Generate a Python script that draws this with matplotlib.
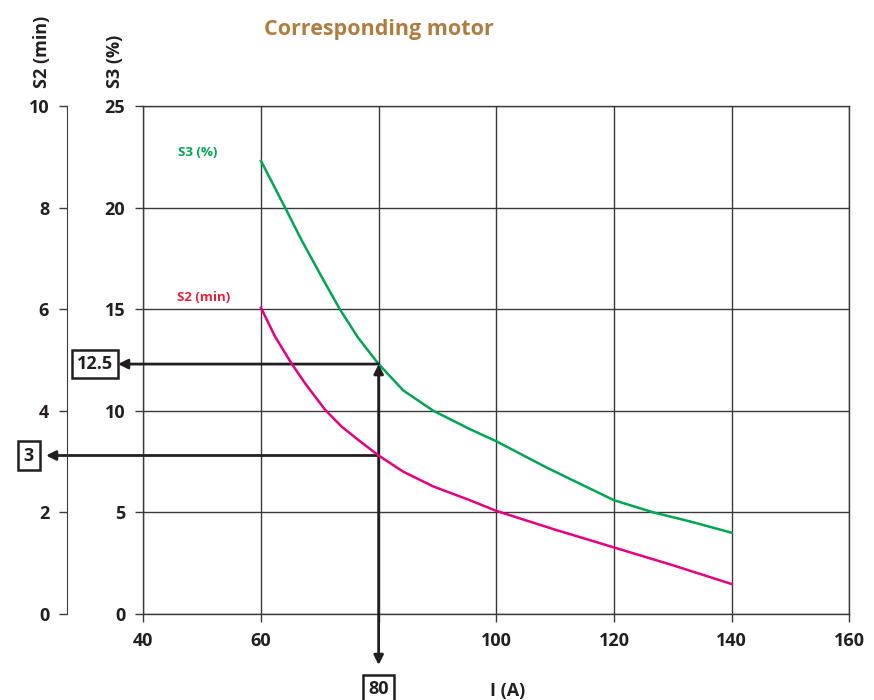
import matplotlib
matplotlib.use("Agg")
import matplotlib.pyplot as plt

plt.rcParams['font.family'] = ['Open Sans', 'DejaVu Sans']

# ---- data ----
I_s3 = [60, 64.1, 66.9, 70.3, 73.4, 76.5, 80, 84.2, 89.3, 95.5, 100, 108.6, 115, 120, 126.7, 133, 140]
S3 = [22.3, 20.0, 18.4, 16.6, 15.0, 13.6, 12.3, 11.0, 10.0, 9.1, 8.5, 7.2, 6.3, 5.6, 5.0, 4.55, 4.0]

I_s2 = [60, 62.4, 65.2, 67.5, 70.9, 73.7, 76.5, 80, 84.2, 89.3, 95.5, 100, 110, 120, 130, 140]
S2 = [6.03, 5.46, 4.93, 4.54, 4.02, 3.69, 3.43, 3.12, 2.80, 2.51, 2.24, 2.03, 1.66, 1.31, 0.96, 0.59]

x_ticks = [40, 60, 80, 100, 120, 140, 160]
x_tick_labels = ["40", "60", "", "100", "120", "140", "160"]
s3_ticks = [0, 5, 10, 15, 20, 25]
s2_ticks = [0, 2, 4, 6, 8, 10]

read_I = 80
read_S3 = "12.5"
read_S2 = "3"

GREEN = "#00A651"
PINK = "#E6007E"
RED = "#E8203A"
BROWN = "#B07D3E"
DARK = "#231F20"
GRID = "#3a3a3a"

W, H = 874, 700
fig = plt.figure(figsize=(W / 100, H / 100), dpi=100)

x0, x1 = 143.3, 849.3
y0, y1 = 614, 106
ax = fig.add_axes([x0 / W, 1 - y0 / H, (x1 - x0) / W, (y0 - y1) / H])
ax.set_xlim(40, 160)
ax.set_ylim(0, 25)
ax.set_xticks(x_ticks)
ax.set_xticklabels(x_tick_labels)
ax.set_yticks(s3_ticks)
ax.grid(True, color=GRID, lw=1.0)
for sp in ax.spines.values():
    sp.set_color(GRID)
    sp.set_linewidth(1.0)
ax.tick_params(direction="out", length=6, width=1, color=GRID,
               labelsize=13, pad=7)
for lab in ax.get_xticklabels() + ax.get_yticklabels():
    lab.set_fontweight("bold")
    lab.set_color(DARK)

# S2 secondary axis on the left
ax2 = ax.twinx()
ax2.set_ylim(0, 10)
ax2.set_yticks(s2_ticks)
ax2.yaxis.set_ticks_position("left")
ax2.yaxis.set_label_position("left")
for k in ("top", "right", "bottom"):
    ax2.spines[k].set_visible(False)
ax2.spines["left"].set_position(("axes", (67.3 - x0) / (x1 - x0)))
ax2.spines["left"].set_color(GRID)
ax2.tick_params(direction="out", length=6, width=1, color=GRID,
                labelsize=13, pad=7)
for lab in ax2.get_yticklabels():
    lab.set_fontweight("bold")
    lab.set_color(DARK)

# curves
ax.plot(I_s3, S3, color=GREEN, lw=1.8, zorder=3)
ax2.plot(I_s2, S2, color=PINK, lw=1.8, zorder=3)

ax.text(49.3, 22.7, "S3 (%)", color=GREEN, fontsize=9.5, fontweight="bold",
        ha="center", va="center")
ax.text(50.2, 15.6, "S2 (min)", color=RED, fontsize=9.5, fontweight="bold",
        ha="center", va="center")

# reading arrows
def interp(xs, ys, x):
    for i in range(len(xs) - 1):
        if xs[i] <= x <= xs[i + 1]:
            t = (x - xs[i]) / (xs[i + 1] - xs[i])
            return ys[i] + t * (ys[i + 1] - ys[i])
    return ys[-1]

y_s3 = interp(I_s3, S3, read_I)
y_s2 = interp(I_s2, S2, read_I) * 2.5  # in S3 units

arrow = dict(arrowstyle="-|>", color=DARK, lw=2, mutation_scale=14,
             shrinkA=0, shrinkB=0)
yt = ax.get_yaxis_transform()
xt = ax.get_xaxis_transform()
ax.annotate("", xy=((118 - x0) / (x1 - x0), y_s3), xycoords=yt,
            xytext=(read_I, y_s3), textcoords="data", arrowprops=arrow,
            annotation_clip=False)
ax.annotate("", xy=((46 - x0) / (x1 - x0), y_s2), xycoords=yt,
            xytext=(read_I, y_s2), textcoords="data", arrowprops=arrow,
            annotation_clip=False)
arrow2 = dict(arrow, arrowstyle="<|-|>")
ax.annotate("", xy=(read_I, (y0 - 665) / (y0 - y1)), xycoords=xt,
            xytext=(read_I, y_s3), textcoords="data", arrowprops=arrow2,
            annotation_clip=False)

box = dict(boxstyle="square,pad=0.3", fc="white", ec=DARK, lw=1.8)
ax.text((95 - x0) / (x1 - x0), y_s3, read_S3, transform=yt, ha="center",
        va="center", fontsize=13, fontweight="bold", color=DARK, bbox=box,
        clip_on=False)
ax.text((29 - x0) / (x1 - x0), y_s2, read_S2, transform=yt, ha="center",
        va="center", fontsize=13, fontweight="bold", color=DARK, bbox=box,
        clip_on=False)
ax.text(read_I, (y0 - 689) / (y0 - y1), str(read_I), transform=xt,
        ha="center", va="center", fontsize=13, fontweight="bold",
        color=DARK, bbox=box, clip_on=False)

# labels
fig.text(379 / W, 1 - 30 / H, "Corresponding motor", color=BROWN,
         fontsize=15.5, fontweight="bold", ha="center", va="center")
fig.text(42 / W, 1 - 88 / H, "S2 (min)", rotation=90, fontsize=13,
         fontweight="bold", color=DARK, ha="center", va="bottom")
fig.text(115 / W, 1 - 88 / H, "S3 (%)", rotation=90, fontsize=13,
         fontweight="bold", color=DARK, ha="center", va="bottom")
fig.text(508 / W, 1 - 691 / H, "I (A)", fontsize=13, fontweight="bold",
         color=DARK, ha="center", va="center")

fig.savefig("out.png", dpi=100)
